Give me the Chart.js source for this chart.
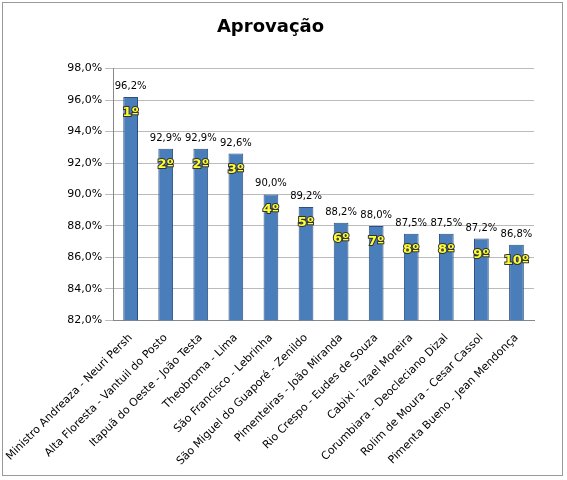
<!DOCTYPE html>
<html lang="en">
<head>
<meta charset="UTF-8" />
<title>Aprovação</title>
<script src="https://cdn.jsdelivr.net/npm/chart.js"></script>
<style>
  body { margin: 0; background: #fff; }
  #wrap { position: absolute; left: 2px; top: 2px; width: 561px; height: 474px; border: 1px solid #999; box-sizing: border-box; }
</style>
</head>
<body>
<div id="wrap"><canvas id="c"></canvas></div>
<script>
const categories = [
  "Ministro Andreaza - Neuri Persh", "Alta Floresta - Vantuil do Posto", "Itapuã do Oeste - João Testa",
  "Theobroma - Lima", "São Francisco - Lebrinha", "São Miguel do Guaporé - Zenildo",
  "Pimenteiras - João Miranda", "Rio Crespo - Eudes de Souza", "Cabixi - Izael Moreira",
  "Corumbiara - Deocleciano Dizal", "Rolim de Moura - Cesar Cassol", "Pimenta Bueno - Jean Mendonça"
];
const values = [96.2, 92.9, 92.9, 92.6, 90.0, 89.2, 88.2, 88.0, 87.5, 87.5, 87.2, 86.8];
const ranks = ["1º", "2º", "2º", "3º", "4º", "5º", "6º", "7º", "8º", "8º", "9º", "10º"];

const fmt = v => v.toFixed(1).replace(".", ",") + "%";

// value labels above bars, yellow rank inside the top of each bar
const labelPlugin = {
  id: "labels",
  afterDatasetsDraw(chart) {
    const ctx = chart.ctx;
    chart.getDatasetMeta(0).data.forEach((bar, i) => {
      ctx.save();
      ctx.textAlign = "center";
      ctx.fillStyle = "#000";
      ctx.font = "10px 'DejaVu Sans'";
      ctx.fillText(fmt(values[i]), bar.x, bar.y - 8);
      ctx.fillStyle = "#ffff33";
      ctx.strokeStyle = "#333";
      ctx.lineWidth = 2;
      ctx.font = "bold 13px 'DejaVu Sans'";
      ctx.strokeText(ranks[i], bar.x, bar.y + 19);
      ctx.fillText(ranks[i], bar.x, bar.y + 19);
      ctx.restore();
    });
  }
};

new Chart(document.getElementById("c"), {
  type: "bar",
  data: {
    labels: categories,
    datasets: [{
      data: values,
      backgroundColor: "#4a7ebb",
      borderColor: "#2a4f80",
      borderWidth: 1,
      barPercentage: 0.42,
      categoryPercentage: 1
    }]
  },
  options: {
    responsive: true,
    maintainAspectRatio: false,
    animation: false,
    layout: { padding: { top: 14, right: 28, left: 4, bottom: 4 } },
    plugins: {
      legend: { display: false },
      tooltip: { enabled: false },
      title: {
        display: true,
        text: "Aprovação",
        color: "#000",
        font: { family: "'DejaVu Sans'", size: 18, weight: "bold" },
        padding: { top: 0, bottom: 30 }
      }
    },
    scales: {
      y: {
        min: 82, max: 98,
        ticks: { stepSize: 2, callback: v => fmt(v), color: "#000", font: { family: "'DejaVu Sans'", size: 11 } },
        grid: { color: "#bbb" },
        border: { color: "#888" }
      },
      x: {
        ticks: { maxRotation: 45, minRotation: 45, color: "#000", autoSkip: false, font: { family: "'DejaVu Sans'", size: 11 } },
        grid: { display: false },
        border: { color: "#888" }
      }
    }
  },
  plugins: [labelPlugin]
});
</script>
</body>
</html>
